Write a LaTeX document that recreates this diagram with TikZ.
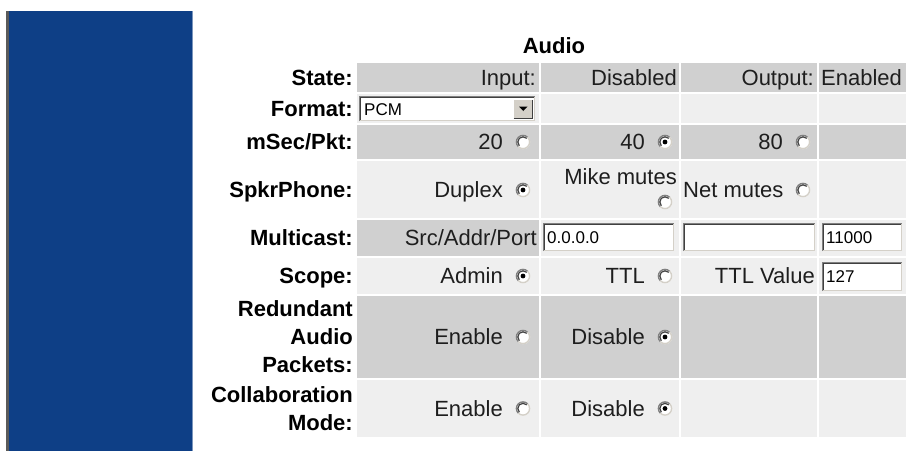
\documentclass[tikz,border=0pt]{standalone}
\usepackage{fontspec}
\setmainfont{Liberation Sans}
\definecolor{panel}{HTML}{0E3F86}
\definecolor{panelrim}{HTML}{5A5A5A}
\definecolor{dk}{HTML}{D0D0D0}
\definecolor{lt}{HTML}{EFEFEF}
\definecolor{txt}{HTML}{1E1E1E}
\definecolor{edge}{HTML}{808080}
\definecolor{edgedk}{HTML}{404040}
\definecolor{face}{HTML}{D4D0C8}
\newcommand\insetbox[4]{%
  \fill[white] (#1,#2) rectangle (#3,#4);
  \draw[edge,line width=1] (#1+0.5,#4) -- (#1+0.5,#2+0.5) -- (#3,#2+0.5);
  \draw[edgedk,line width=1] (#1+1.5,#4-1) -- (#1+1.5,#2+1.5) -- (#3-1,#2+1.5);
  \draw[face,line width=1] (#1+0.5,#4-0.5) -- (#3-0.5,#4-0.5) -- (#3-0.5,#2+0.5);
}
\begin{document}
\begin{tikzpicture}[x=1pt,y=-1pt,
  lbl/.style={font=\bfseries\fontsize{22}{28}\selectfont, inner sep=0, anchor=east, text height=15.8, text depth=0},
  mlbl/.style={font=\bfseries\fontsize{22}{28}\selectfont, inner sep=0, anchor=east, align=right},
  val/.style={font=\fontsize{22}{28}\selectfont, text=txt, inner sep=0, text height=15.8, text depth=0},
  fld/.style={font=\fontsize{17}{20}\selectfont, inner sep=0, anchor=west, text height=12.2, text depth=0},
  radio/.pic={
    \fill[white] (0,0) circle[radius=7.2];
    \draw[edge,line width=1.4] (135:6.6) arc[start angle=135,end angle=315,radius=6.6];
    \draw[face,line width=1.4] (315:6.6) arc[start angle=315,end angle=495,radius=6.6];
    \draw[edgedk,line width=1.2] (135:5.2) arc[start angle=135,end angle=315,radius=5.2];
  },
  radioon/.pic={
    \pic {radio};
    \fill[black] (0,0) circle[radius=2.4];
  }
]
\useasboundingbox (0,0) rectangle (906,451);
% side panel
\fill[panel] (6,11) rectangle (193,451);
\fill[panelrim] (6,11) rectangle (8.5,451);
\fill[panel!55!white] (191.6,11) rectangle (193,451);

% cell backgrounds
\foreach \t/\b/\c in {63/92/dk,94/123/lt,125/159/dk,161/218/lt,258/294/lt,296/378/dk,380/437/lt}{
  \foreach \l/\r in {357/539,541/679,681/817,819/906}{
    \fill[\c] (\l,\t) rectangle (\r,\b);
  }
}
\fill[dk] (357,220) rectangle (539,256);
\foreach \l/\r in {541/679,681/817,819/906}{
  \fill[lt] (\l,220) rectangle (\r,256);
}

% title
\node[font=\bfseries\fontsize{22}{28}\selectfont, inner sep=0, text height=15.8, text depth=0] (title) at (554,46) {Audio};

% row labels
\node[lbl] (lstate) at (353,77.5) {State:};
\node[lbl] (lformat) at (353,108.5) {Format:};
\node[lbl] (lmsec) at (353,142) {mSec/Pkt:};
\node[lbl] (lspkr) at (353,190) {SpkrPhone:};
\node[lbl] (lmulti) at (353,238) {Multicast:};
\node[lbl] (lscope) at (353,276) {Scope:};
\node[mlbl] (lred) at (353,337) {Redundant\\Audio\\Packets:};
\node[mlbl] (lcol) at (353,408.5) {Collaboration\\Mode:};

% State
\node[val,anchor=east] (sin) at (536,77.5) {Input:};
\node[val,anchor=east] (sdis) at (677,77.5) {Disabled};
\node[val,anchor=east] (sout) at (814,77.5) {Output:};
\node[val,anchor=west] (sen) at (821,77.5) {Enabled};

% Format select
\insetbox{359}{96}{535}{121}
\fill[face] (513,99) rectangle (533,119);
\draw[white,line width=1] (513.5,119) -- (513.5,99.5) -- (533,99.5);
\draw[edgedk,line width=1] (513.5,118.5) -- (532.5,118.5) -- (532.5,99.5);
\fill[black] (519,106.5) -- (527.5,106.5) -- (523.25,111) -- cycle;
\node[fld] (pcm) at (364,109) {PCM};

% mSec/Pkt
\node[val,anchor=east] (m20) at (503,142) {20};
\pic at (523,142) {radio};
\node[val,anchor=east] (m40) at (645,142) {40};
\pic at (665,142) {radioon};
\node[val,anchor=east] (m80) at (783,142) {80};
\pic at (803,142) {radio};

% SpkrPhone
\node[val,anchor=east] (dup) at (503,190) {Duplex};
\pic at (523,190) {radioon};
\node[val,anchor=east] (mike) at (677,177) {Mike mutes};
\pic at (665,202) {radio};
\node[val,anchor=west] (net) at (683,190) {Net mutes};
\pic at (803,190) {radio};

% Multicast
\node[val,anchor=east] (src) at (537,238) {Src/Addr/Port};
\insetbox{543}{223}{674}{251}
\insetbox{683}{223}{815}{251}
\insetbox{822}{223}{902}{251}
\node[fld] (addr) at (547,237.5) {0.0.0.0};
\node[fld] (port) at (826,237.5) {11000};

% Scope
\node[val,anchor=east] (admin) at (503,276) {Admin};
\pic at (523,276) {radioon};
\node[val,anchor=east] (ttl) at (645,276) {TTL};
\pic at (665,276) {radio};
\node[val,anchor=east] (ttlv) at (815,276) {TTL Value};
\insetbox{822}{262}{902}{291}
\node[fld] (ttlnum) at (826,276.5) {127};

% Redundant
\node[val,anchor=east] (ren) at (503,337) {Enable};
\pic at (523,337) {radio};
\node[val,anchor=east] (rdis) at (645,337) {Disable};
\pic at (665,337) {radioon};

% Collaboration
\node[val,anchor=east] (cen) at (503,408.5) {Enable};
\pic at (523,408.5) {radio};
\node[val,anchor=east] (cdis) at (645,408.5) {Disable};
\pic at (665,408.5) {radioon};
\end{tikzpicture}
\end{document}
